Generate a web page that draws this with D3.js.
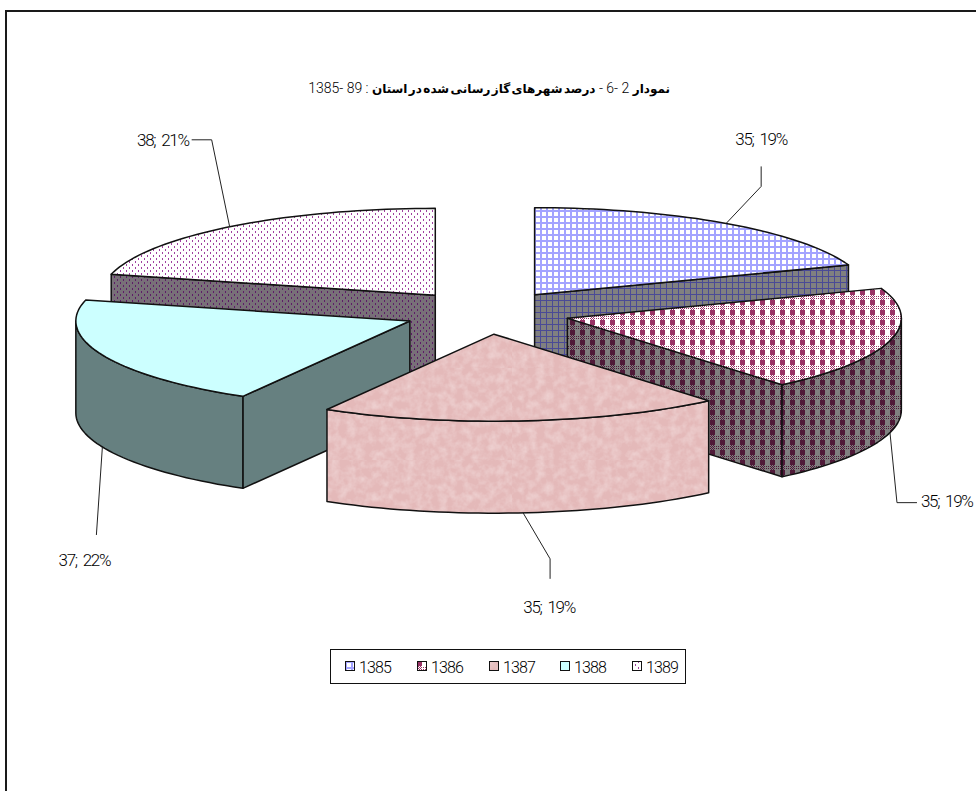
<!DOCTYPE html>
<html>
<head>
<meta charset="utf-8">
<script src="https://cdn.jsdelivr.net/npm/d3@7"></script>
<style>
    body { margin: 0; background: #fff; }
    text { font-family: Roboto, "Liberation Sans", sans-serif; fill: #000; }
</style>
</head>
<body>
<div class="pie-chart"></div>
<script>
var years = ["1385", "1386", "1387", "1388", "1389"];
var cities = [35, 35, 35, 37, 38];
var percents = [19, 19, 19, 22, 21];

var chartWidth = 976;
var chartHeight = 791;
var center = {x: 486.7, y: 312.5};
var radiusX = 334;
var radiusY = 87;
var depth = 92;
var explode = 0.25;

// where each leader goes, measured from the point it leaves the slice
var leaders = [
    {elbow: [35, -37], end: [35, -57], text: [35, -85], anchor: "middle"},
    {elbow: [7, 70], end: [27, 70], text: [31, 68], anchor: "start"},
    {elbow: [27, 46], end: [27, 66], text: [26, 94], anchor: "middle"},
    {elbow: [-6, 88], end: [-6, 88], text: [-18, 113], anchor: "middle"},
    {elbow: [-18, -87], end: [-38, -87], text: [-41, -87], anchor: "end"}
];

var svg = d3.select(".pie-chart")
    .append("svg")
    .attr("width", chartWidth)
    .attr("height", chartHeight)
    .style("display", "block");

var xScale = d3.scaleLinear()
    .domain([-1, 1])
    .range([center.x - radiusX, center.x + radiusX]);

var yScale = d3.scaleLinear()
    .domain([-1, 1])
    .range([center.y + radiusY, center.y - radiusY]);

var legendScale = d3.scaleLinear()
    .domain([0, 4])
    .range([345, 632]);

var lineMaker = d3.line();

//fill patterns, excel style
var defs = svg.append("defs");

function addPattern(id, size, bg, draw) {
    var p = defs.append("pattern")
        .attr("id", id)
        .attr("patternUnits", "userSpaceOnUse")
        .attr("width", size)
        .attr("height", size);
    p.append("rect").attr("width", size).attr("height", size).attr("fill", bg);
    draw(p);
}

function gridPattern(id, bg, line, thick) {
    addPattern(id, 6, bg, function (p) {
        p.append("rect").attr("width", thick).attr("height", 6).attr("fill", line);
        p.append("rect").attr("width", 6).attr("height", thick).attr("fill", line);
    });
}

function plaidPattern(id, light, dark) {
    addPattern(id + "-half", 2, light, function (p) {
        p.append("rect").attr("width", 1).attr("height", 1).attr("fill", dark);
        p.append("rect").attr("x", 1).attr("y", 1).attr("width", 1).attr("height", 1).attr("fill", dark);
    });
    addPattern(id + "-quarter", 2, light, function (p) {
        p.append("rect").attr("width", 1).attr("height", 1).attr("fill", dark);
    });
    addPattern(id, 10, light, function (p) {
        p.append("rect").attr("width", 5).attr("height", 5).attr("fill", dark);
        p.append("rect").attr("y", 5).attr("width", 5).attr("height", 5).attr("fill", "url(#" + id + "-half)");
        p.append("rect").attr("x", 5).attr("y", 5).attr("width", 5).attr("height", 5).attr("fill", "url(#" + id + "-quarter)");
    });
}

function dotPattern(id, bg, dot) {
    addPattern(id, 6, bg, function (p) {
        p.append("rect").attr("width", 1).attr("height", 2).attr("fill", dot);
        p.append("rect").attr("x", 3).attr("y", 3).attr("width", 1).attr("height", 2).attr("fill", dot);
    });
}

gridPattern("top-0", "#ffffff", "#a3a3ff", 2);
gridPattern("side-0", "#808080", "#4a4a96", 1);
plaidPattern("top-1", "#ffffff", "#993366");
plaidPattern("side-1", "#808080", "#4f1a38");
dotPattern("top-4", "#ffffff", "#a040a0");
dotPattern("side-4", "#787078", "#5e1c68");

var marble = defs.append("filter")
    .attr("id", "marble")
    .attr("x", 0).attr("y", 0).attr("width", 1).attr("height", 1);
marble.append("feTurbulence")
    .attr("type", "fractalNoise")
    .attr("baseFrequency", 0.12)
    .attr("numOctaves", 3)
    .attr("seed", 4);
marble.append("feColorMatrix")
    .attr("values", "0 0 0 0 0.98  0 0 0 0 0.88  0 0 0 0 0.88  0.7 0 0 0 -0.25");
marble.append("feComposite").attr("in2", "SourceGraphic").attr("operator", "over");

var marblePattern = defs.append("pattern")
    .attr("id", "top-2")
    .attr("patternUnits", "userSpaceOnUse")
    .attr("width", 256)
    .attr("height", 92);
marblePattern.append("rect")
    .attr("width", 256).attr("height", 92)
    .attr("fill", "#e4b9b9")
    .attr("filter", "url(#marble)");

var topFills = ["url(#top-0)", "url(#top-1)", "url(#top-2)", "#ccffff", "url(#top-4)"];
var sideFills = ["url(#side-0)", "url(#side-1)", "url(#top-2)", "#668080", "url(#side-4)"];

//frame
svg.append("path")
    .attr("d", `M6,${chartHeight}V11H${chartWidth}`)
    .attr("fill", "none")
    .attr("stroke", "#1a1a1a")
    .attr("stroke-width", 2);

var pie = d3.pie().sort(null);
var slices = pie(cities).map(function (d, i) {
    var mid = (d.startAngle + d.endAngle) / 2;
    return {
        i: i,
        a0: d.startAngle,
        a1: d.endAngle,
        mid: mid,
        ox: explode * Math.sin(mid),
        oy: explode * Math.cos(mid)
    };
});

function rim(s, a, r) {
    return [xScale(s.ox + r * Math.sin(a)), yScale(s.oy + r * Math.cos(a))];
}

function arcPoints(s, from, to) {
    var n = Math.ceil((to - from) / 0.03);
    return d3.range(n + 1).map(function (k) {
        return rim(s, from + (to - from) * k / n, 1);
    });
}

function drop(p) {
    return [p[0], p[1] + depth];
}

function drawPoly(g, pts, fill) {
    g.append("path")
        .attr("d", lineMaker(pts) + "Z")
        .attr("fill", fill)
        .attr("stroke", "#111")
        .attr("stroke-width", 1.5)
        .attr("stroke-linejoin", "round");
}

function drawFace(g, s, a) {
    var apex = rim(s, 0, 0);
    var edge = rim(s, a, 1);
    drawPoly(g, [apex, edge, drop(edge), drop(apex)], sideFills[s.i]);
}

//back slices first so the front ones cover them
var drawOrder = slices.slice().sort(function (a, b) {
    return Math.cos(b.mid) - Math.cos(a.mid);
});

drawOrder.forEach(function (s) {
    var g = svg.append("g").attr("class", "slice-" + years[s.i]);

    if (Math.sin(s.a0) < -1e-6) drawFace(g, s, s.a0);
    if (Math.sin(s.a1) > 1e-6) drawFace(g, s, s.a1);

    var from = Math.max(s.a0, Math.PI / 2);
    var to = Math.min(s.a1, Math.PI * 1.5);
    if (to > from) {
        var front = arcPoints(s, from, to);
        drawPoly(g, front.concat(front.slice().reverse().map(drop)), sideFills[s.i]);
    }

    drawPoly(g, [rim(s, 0, 0)].concat(arcPoints(s, s.a0, s.a1)), topFills[s.i]);
});

//data labels with leader lines
slices.forEach(function (s) {
    var l = leaders[s.i];
    var start = rim(s, s.mid, 1);
    if (Math.cos(s.mid) < 0) start = drop(start);

    svg.append("path")
        .attr("d", lineMaker([
            start,
            [start[0] + l.elbow[0], start[1] + l.elbow[1]],
            [start[0] + l.end[0], start[1] + l.end[1]]
        ]))
        .attr("fill", "none")
        .attr("stroke", "#222")
        .attr("stroke-width", 1);

    svg.append("text")
        .attr("x", start[0] + l.text[0])
        .attr("y", start[1] + l.text[1])
        .attr("dy", "0.36em")
        .attr("text-anchor", l.anchor)
        .attr("font-size", 17)
        .attr("font-weight", 300)
        .attr("letter-spacing", -1.3)
        .attr("word-spacing", 3)
        .text(`${cities[s.i]}; ${percents[s.i]}%`);
});

//title
var title = svg.append("text")
    .attr("x", 670)
    .attr("y", 93)
    .attr("direction", "rtl")
    .attr("text-anchor", "start")
    .style("font-family", "'DejaVu Sans', sans-serif")
    .attr("font-size", 12);
title.append("tspan").attr("font-weight", "bold").text("نمودار");
title.append("tspan").style("font-family", "Roboto").attr("font-size", 14).attr("font-weight", 300).text(" 2 -6 - ");
title.append("tspan").attr("font-weight", "bold").attr("word-spacing", -2.8).text("درصد شهرهای گاز رسانی شده در استان");
title.append("tspan").style("font-family", "Roboto").attr("font-size", 14).attr("font-weight", 300).text(" : 89 -1385");

//legend
svg.append("rect")
    .attr("x", 330.5)
    .attr("y", 649.5)
    .attr("width", 355)
    .attr("height", 34)
    .attr("fill", "#fff")
    .attr("stroke", "#111")
    .attr("stroke-width", 1);

var legendItems = svg.selectAll(".legend-item")
    .data(years)
    .enter()
    .append("g")
    .attr("class", "legend-item")
    .attr("transform", function (d, i) { return `translate(${Math.round(legendScale(i))},661)`; });

legendItems.append("rect")
    .attr("x", 0.5)
    .attr("y", 0.5)
    .attr("width", 9)
    .attr("height", 9)
    .attr("fill", function (d, i) { return topFills[i]; })
    .attr("stroke", "#111")
    .attr("stroke-width", 1);

legendItems.append("text")
    .attr("x", 14)
    .attr("y", 6)
    .attr("dy", "0.36em")
    .attr("font-size", 16)
    .attr("font-weight", 300)
    .attr("letter-spacing", -0.9)
    .text(function (d) { return d; });
</script>
</body>
</html>
